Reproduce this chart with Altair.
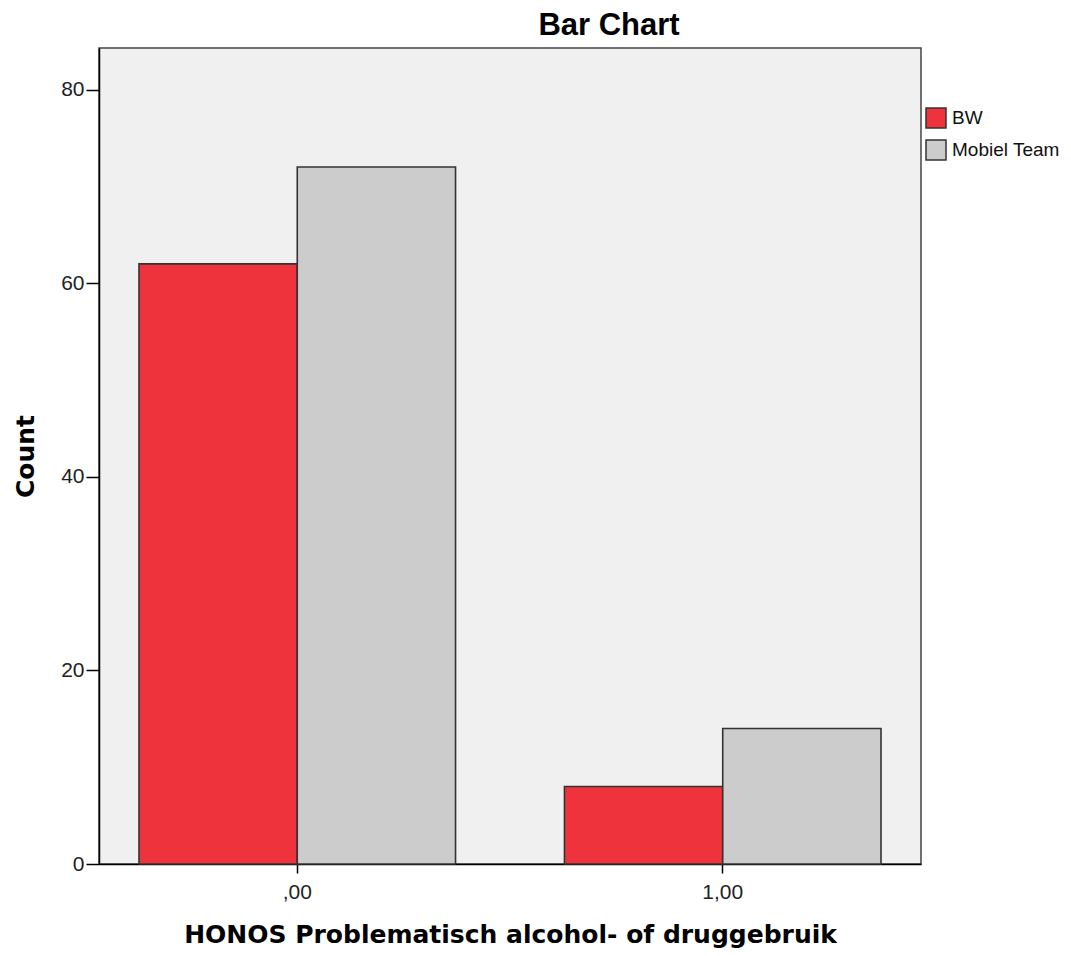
import altair as alt
import pandas as pd

categories = [",00", "1,00"]
series = ["BW", "Mobiel Team"]
bw_counts = [62, 8]
mobiel_counts = [72, 14]
colors = ["#EF333C", "#CCCCCC"]

rows = []
for i, c in enumerate(categories):
    rows.append({"cat": c, "group": series[0], "count": bw_counts[i]})
    rows.append({"cat": c, "group": series[1], "count": mobiel_counts[i]})
df = pd.DataFrame(rows)

chart = alt.Chart(df).mark_bar(stroke="#333333", strokeWidth=1.6).encode(
    x=alt.X(
        "cat:N",
        sort=categories,
        scale=alt.Scale(paddingInner=0.256, paddingOuter=0.094),
        axis=alt.Axis(
            title="HONOS Problematisch alcohol- of druggebruik",
            labelAngle=0,
            tickSize=9,
            labelPadding=8,
            titleX=411,
            titleY=78,
            titleAlign="center",
            titleBaseline="alphabetic",
        ),
    ),
    xOffset=alt.XOffset(
        "group:N", sort=series, scale=alt.Scale(paddingInner=0, paddingOuter=0)
    ),
    y=alt.Y(
        "count:Q",
        scale=alt.Scale(domain=[0, 84.3], nice=False),
        axis=alt.Axis(
            title="Count",
            values=[0, 20, 40, 60, 80],
            tickSize=13,
            labelPadding=2,
            titleAngle=270,
            titleX=-66,
            titleY=408,
            titleAlign="center",
            titleBaseline="alphabetic",
        ),
    ),
    color=alt.Color(
        "group:N",
        sort=series,
        scale=alt.Scale(domain=series, range=colors),
        legend=alt.Legend(
            title=None,
            orient="none",
            legendX=826,
            legendY=59,
            symbolType="square",
            symbolSize=400,
            symbolStrokeColor="#333333",
            symbolStrokeWidth=1.5,
            labelFont="Liberation Sans",
            labelFontSize=19,
            labelColor="#111111",
            labelOffset=5,
            rowPadding=6,
            padding=0,
        ),
    ),
).properties(
    width=822,
    height=816,
    autosize=alt.AutoSizeParams(type="none"),
    padding={"left": 91, "top": 40, "right": 142, "bottom": 84},
    title=alt.TitleParams(
        "Bar Chart",
        font="Liberation Sans",
        fontSize=31,
        fontWeight="bold",
        color="#000000",
        anchor="middle",
        frame="group",
        dx=99,
        offset=6,
    ),
).configure_view(
    fill="#F0F0F0", stroke="#444444", strokeWidth=1.5
).configure_axis(
    grid=False,
    domainColor="#000000",
    domainWidth=1.5,
    tickColor="#000000",
    tickWidth=1.5,
    labelFont="Liberation Sans",
    labelFontSize=21,
    labelColor="#222222",
    titleFont="DejaVu Sans",
    titleFontSize=25,
    titleFontWeight="bold",
    titleColor="#000000",
)

chart.save("out.html", embed_options={"renderer": "svg", "actions": False})
